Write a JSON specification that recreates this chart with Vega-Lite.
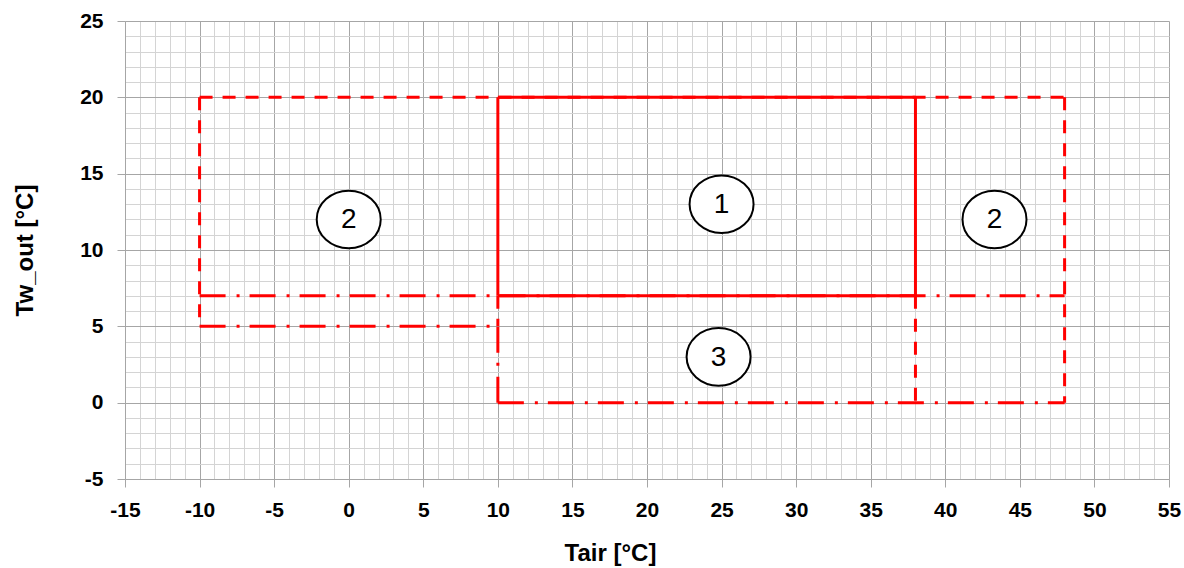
{
  "$schema": "https://vega.github.io/schema/vega-lite/v6.json",
  "width": 1044,
  "height": 458,
  "autosize": {"type": "none"},
  "padding": {"left": 125, "top": 21, "right": 15, "bottom": 89},
  "background": "white",
  "config": {
    "view": {"stroke": null},
    "axis": {
      "labelFont": "Liberation Sans",
      "labelFontWeight": "bold",
      "labelFontSize": 21,
      "labelColor": "#000000",
      "titleFont": "Liberation Sans",
      "titleFontWeight": "bold",
      "titleFontSize": 24,
      "titleColor": "#000000",
      "domainColor": "#a6a6a6",
      "domainWidth": 1,
      "tickColor": "#a6a6a6",
      "tickSize": 8,
      "labelOverlap": false,
      "labelFlush": false,
      "gridWidth": 1,
      "gridColor": {"condition": {"test": "datum.value % 5 === 0", "value": "#a6a6a6"}, "value": "#d4d4d4"},
      "tickOpacity": {"condition": {"test": "datum.value % 5 === 0", "value": 1}, "value": 0},
      "labelExpr": "datum.value % 5 === 0 ? '' + datum.value : ''"
    }
  },
  "datasets": {
    "segments": [
      {"zone": "zone 2", "x1": -10, "y1": 20, "x2": 48, "y2": 20},
      {"zone": "zone 2", "x1": -10, "y1": 20, "x2": -10, "y2": 5},
      {"zone": "zone 2", "x1": 48, "y1": 20, "x2": 48, "y2": 0},
      {"zone": "zone 2", "x1": 38, "y1": 7, "x2": 38, "y2": 0},
      {"zone": "zone 2", "x1": 10, "y1": 7, "x2": 10, "y2": 5},
      {"zone": "zone 3", "x1": -10, "y1": 7, "x2": 48, "y2": 7},
      {"zone": "zone 3", "x1": -10, "y1": 5, "x2": 10, "y2": 5},
      {"zone": "zone 3", "x1": 10, "y1": 0, "x2": 10, "y2": 5},
      {"zone": "zone 3", "x1": 10, "y1": 0, "x2": 48, "y2": 0},
      {"zone": "zone 1", "x1": 10, "y1": 7, "x2": 38, "y2": 7},
      {"zone": "zone 1", "x1": 38, "y1": 7, "x2": 38, "y2": 20},
      {"zone": "zone 1", "x1": 38, "y1": 20, "x2": 10, "y2": 20},
      {"zone": "zone 1", "x1": 10, "y1": 20, "x2": 10, "y2": 7}
    ],
    "labels": [
      {"zone": "2", "x": 0, "y": 12},
      {"zone": "1", "x": 25, "y": 13},
      {"zone": "2", "x": 43.3, "y": 12},
      {"zone": "3", "x": 24.8, "y": 3}
    ]
  },
  "layer": [
    {
      "data": {"name": "segments"},
      "mark": {"type": "rule", "color": "#ff0000", "strokeWidth": 3},
      "encoding": {
        "x": {
          "field": "x1", "type": "quantitative",
          "scale": {"domain": [-15, 55], "nice": false, "zero": false},
          "axis": {"tickCount": 70, "title": "Tair [°C]", "labelPadding": 12, "titleX": 485, "titleY": 62, "titleBaseline": "top", "titleAlign": "center"}
        },
        "x2": {"field": "x2"},
        "y": {
          "field": "y1", "type": "quantitative",
          "scale": {"domain": [-5, 25], "nice": false, "zero": false},
          "axis": {"tickCount": 30, "title": "Tw_out [°C]", "labelPadding": 14, "titleX": -100, "titleY": 229, "titleAngle": -90, "titleBaseline": "middle", "titleAlign": "center"}
        },
        "y2": {"field": "y2"},
        "strokeDash": {
          "field": "zone", "type": "nominal",
          "scale": {"domain": ["zone 1", "zone 2", "zone 3"], "range": [[1, 0], [13, 10], [26, 11, 3, 10]]},
          "legend": null
        }
      }
    },
    {
      "data": {"name": "labels"},
      "mark": {
        "type": "point",
        "shape": "M -1 0 A 1 0.9 0 1 1 1 0 A 1 0.9 0 1 1 -1 0 Z",
        "size": 4096,
        "filled": true,
        "fill": "white",
        "fillOpacity": 1,
        "stroke": "black",
        "strokeWidth": 2,
        "opacity": 1
      },
      "encoding": {
        "x": {"field": "x", "type": "quantitative"},
        "y": {"field": "y", "type": "quantitative"}
      }
    },
    {
      "data": {"name": "labels"},
      "mark": {"type": "text", "font": "Liberation Sans", "fontSize": 28, "color": "black", "baseline": "middle", "align": "center", "dy": 1},
      "encoding": {
        "x": {"field": "x", "type": "quantitative"},
        "y": {"field": "y", "type": "quantitative"},
        "text": {"field": "zone"}
      }
    }
  ]
}
